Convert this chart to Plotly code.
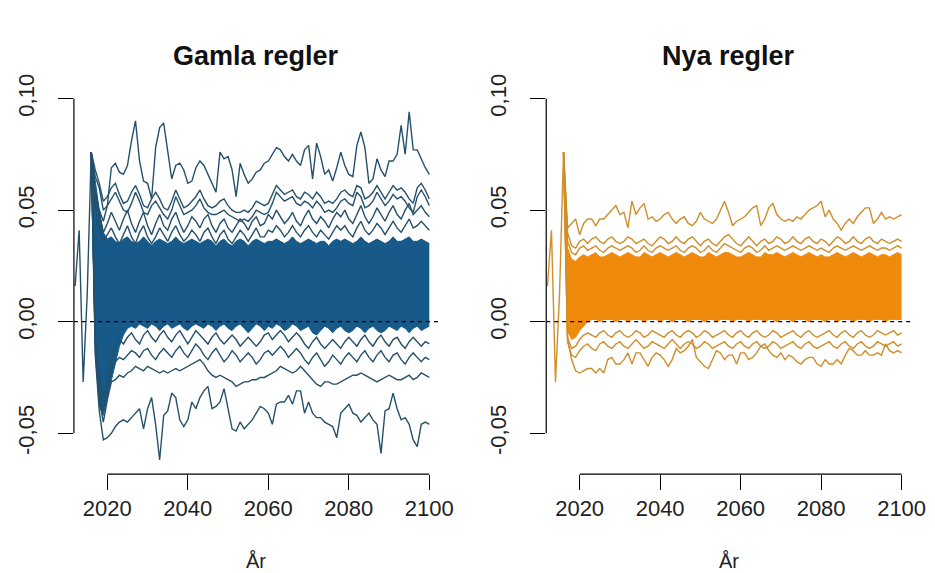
import plotly.graph_objects as go

# ---------------- data ----------------
hist_years = [2012, 2013, 2014, 2015, 2016]
hist_values = [0.016, 0.041, -0.027, 0.012, 0.076]

fan_years = list(range(2016, 2101))

gamla_max = [0.076, 0.055, 0.050, 0.045,
    0.052, 0.069, 0.071, 0.067, 0.066, 0.070, 0.081, 0.090, 0.072, 0.063,
    0.062, 0.055, 0.078, 0.087, 0.089, 0.077, 0.064, 0.070, 0.071, 0.068,
    0.062, 0.063, 0.069, 0.072, 0.070, 0.066, 0.062, 0.058, 0.076, 0.073,
    0.074, 0.068, 0.056, 0.071, 0.066, 0.062, 0.064, 0.067, 0.068, 0.071,
    0.072, 0.075, 0.078, 0.077, 0.074, 0.072, 0.075, 0.072, 0.070, 0.077,
    0.079, 0.064, 0.080, 0.074, 0.066, 0.068, 0.063, 0.069, 0.076, 0.070,
    0.066, 0.065, 0.079, 0.085, 0.078, 0.062, 0.064, 0.073, 0.068, 0.065,
    0.072, 0.072, 0.075, 0.088, 0.075, 0.094, 0.077, 0.077, 0.073, 0.069,
    0.066]
gamla_u0 = [0.076, 0.068, 0.062, 0.054,
    0.056, 0.060, 0.062, 0.057, 0.053, 0.054, 0.058, 0.061, 0.057, 0.052,
    0.051, 0.055, 0.058, 0.055, 0.051, 0.050, 0.054, 0.059, 0.055, 0.051,
    0.052, 0.054, 0.056, 0.059, 0.055, 0.052, 0.051, 0.052, 0.054, 0.055,
    0.052, 0.050, 0.049, 0.049, 0.050, 0.049, 0.051, 0.054, 0.053, 0.052,
    0.053, 0.057, 0.061, 0.059, 0.057, 0.058, 0.059, 0.056, 0.055, 0.058,
    0.057, 0.055, 0.058, 0.056, 0.053, 0.054, 0.053, 0.055, 0.058, 0.059,
    0.057, 0.056, 0.061, 0.060, 0.055, 0.056, 0.058, 0.061, 0.058, 0.055,
    0.058, 0.061, 0.059, 0.060, 0.058, 0.055, 0.053, 0.060, 0.062, 0.059,
    0.055]
gamla_u1 = [0.076, 0.065, 0.060, 0.050,
    0.052, 0.055, 0.058, 0.054, 0.050, 0.049, 0.053, 0.058, 0.054, 0.049,
    0.048, 0.052, 0.054, 0.051, 0.048, 0.046, 0.050, 0.056, 0.052, 0.048,
    0.049, 0.050, 0.052, 0.055, 0.051, 0.049, 0.048, 0.048, 0.049, 0.050,
    0.048, 0.047, 0.046, 0.045, 0.046, 0.045, 0.047, 0.050, 0.049, 0.048,
    0.049, 0.053, 0.058, 0.056, 0.054, 0.055, 0.056, 0.053, 0.052, 0.054,
    0.053, 0.051, 0.054, 0.052, 0.049, 0.050, 0.049, 0.051, 0.054, 0.055,
    0.053, 0.052, 0.058, 0.056, 0.051, 0.052, 0.054, 0.058, 0.055, 0.052,
    0.054, 0.057, 0.055, 0.056, 0.054, 0.051, 0.049, 0.056, 0.059, 0.056,
    0.052]
gamla_u2 = [0.076, 0.058, 0.048, 0.040,
    0.044, 0.049, 0.045, 0.041, 0.046, 0.050, 0.044, 0.040, 0.045, 0.049,
    0.043, 0.039, 0.044, 0.048, 0.043, 0.041, 0.046, 0.049, 0.044, 0.040,
    0.043, 0.047, 0.045, 0.042, 0.046, 0.048, 0.043, 0.040, 0.044, 0.046,
    0.042, 0.040, 0.043, 0.046, 0.044, 0.041, 0.045, 0.047, 0.043, 0.044,
    0.048, 0.046, 0.050, 0.047, 0.044, 0.046, 0.049, 0.045, 0.043, 0.047,
    0.050, 0.046, 0.044, 0.047, 0.045, 0.042, 0.046, 0.049, 0.047, 0.050,
    0.046, 0.044, 0.048, 0.052, 0.047, 0.044, 0.047, 0.051, 0.048, 0.045,
    0.049, 0.052, 0.048, 0.046, 0.050, 0.053, 0.048, 0.050, 0.052, 0.049,
    0.047]
gamla_u3 = [0.076, 0.052, 0.042, 0.036,
    0.039, 0.042, 0.038, 0.035, 0.039, 0.043, 0.038, 0.035, 0.040, 0.043,
    0.038, 0.035, 0.038, 0.042, 0.039, 0.036, 0.040, 0.043, 0.039, 0.036,
    0.038, 0.041, 0.039, 0.036, 0.040, 0.042, 0.038, 0.035, 0.039, 0.041,
    0.037, 0.035, 0.038, 0.041, 0.039, 0.036, 0.039, 0.042, 0.038, 0.038,
    0.041, 0.040, 0.043, 0.041, 0.038, 0.040, 0.043, 0.040, 0.038, 0.041,
    0.043, 0.040, 0.038, 0.041, 0.039, 0.037, 0.040, 0.043, 0.041, 0.043,
    0.040, 0.038, 0.042, 0.045, 0.041, 0.039, 0.041, 0.044, 0.042, 0.039,
    0.042, 0.045, 0.042, 0.040, 0.043, 0.046, 0.042, 0.043, 0.045, 0.043,
    0.041]
gamla_core_hi = [0.076, 0.062, 0.050, 0.040,
    0.037, 0.038, 0.036, 0.035, 0.037, 0.038, 0.036, 0.035, 0.036, 0.038,
    0.036, 0.034, 0.036, 0.037, 0.036, 0.035, 0.036, 0.038, 0.036, 0.035,
    0.036, 0.037, 0.036, 0.035, 0.036, 0.037, 0.036, 0.034, 0.036, 0.037,
    0.035, 0.034, 0.036, 0.037, 0.036, 0.034, 0.036, 0.037, 0.036, 0.035,
    0.036, 0.036, 0.037, 0.036, 0.035, 0.036, 0.038, 0.036, 0.035, 0.036,
    0.037, 0.036, 0.035, 0.036, 0.036, 0.034, 0.036, 0.037, 0.036, 0.037,
    0.036, 0.035, 0.036, 0.038, 0.036, 0.035, 0.036, 0.037, 0.036, 0.035,
    0.036, 0.038, 0.036, 0.036, 0.037, 0.038, 0.036, 0.036, 0.037, 0.036,
    0.035]
gamla_core_lo = [0.076, -0.014, -0.038, -0.042,
    -0.034, -0.026, -0.018, -0.011, -0.006, -0.003, -0.002, -0.003, -0.001, -0.002,
    -0.003, -0.001, -0.002, -0.004, -0.002, -0.001, -0.003, -0.002, -0.001, -0.003,
    -0.004, -0.002, -0.001, -0.002, -0.003, -0.001, -0.002, -0.004, -0.002, -0.001,
    -0.003, -0.004, -0.002, -0.001, -0.003, -0.005, -0.003, -0.001, -0.002, -0.004,
    -0.002, -0.003, -0.001, -0.002, -0.004, -0.003, -0.001, -0.002, -0.004, -0.003,
    -0.002, -0.005, -0.006, -0.004, -0.002, -0.003, -0.005, -0.003, -0.002, -0.004,
    -0.005, -0.004, -0.002, -0.003, -0.005, -0.003, -0.002, -0.004, -0.005, -0.004,
    -0.002, -0.003, -0.004, -0.002, -0.003, -0.005, -0.003, -0.002, -0.004, -0.003,
    -0.002]
gamla_d3 = [0.076, -0.006, -0.025, -0.034,
    -0.026, -0.017, -0.011, -0.008, -0.010, -0.007, -0.005, -0.008, -0.010, -0.006,
    -0.004, -0.007, -0.009, -0.006, -0.004, -0.007, -0.009, -0.006, -0.004, -0.007,
    -0.010, -0.007, -0.004, -0.006, -0.008, -0.010, -0.007, -0.005, -0.008, -0.010,
    -0.008, -0.006, -0.008, -0.011, -0.009, -0.007, -0.009, -0.011, -0.009, -0.006,
    -0.005, -0.008, -0.006, -0.004, -0.006, -0.009, -0.007, -0.005, -0.007, -0.010,
    -0.012, -0.009, -0.007, -0.010, -0.012, -0.010, -0.008, -0.010, -0.012, -0.009,
    -0.007, -0.009, -0.011, -0.008, -0.006, -0.009, -0.011, -0.008, -0.006, -0.009,
    -0.011, -0.008, -0.007, -0.010, -0.012, -0.009, -0.007, -0.009, -0.011, -0.009,
    -0.010]
gamla_d2 = [0.076, -0.008, -0.030, -0.040,
    -0.030, -0.022, -0.018, -0.016, -0.017, -0.015, -0.013, -0.014, -0.016, -0.013,
    -0.012, -0.015, -0.017, -0.014, -0.012, -0.014, -0.016, -0.013, -0.011, -0.014,
    -0.016, -0.013, -0.010, -0.012, -0.015, -0.017, -0.014, -0.012, -0.015, -0.018,
    -0.016, -0.013, -0.015, -0.018, -0.016, -0.014, -0.016, -0.019, -0.017, -0.014,
    -0.013, -0.015, -0.013, -0.011, -0.013, -0.016, -0.014, -0.012, -0.014, -0.017,
    -0.019, -0.016, -0.014, -0.017, -0.020, -0.018, -0.015, -0.017, -0.019, -0.016,
    -0.014, -0.016, -0.018, -0.015, -0.013, -0.016, -0.018, -0.015, -0.013, -0.016,
    -0.018, -0.015, -0.014, -0.017, -0.019, -0.016, -0.014, -0.016, -0.018, -0.016,
    -0.017]
gamla_d1 = [0.076, -0.010, -0.035, -0.045,
    -0.035, -0.027, -0.026, -0.024, -0.025, -0.023, -0.022, -0.020, -0.021, -0.022,
    -0.020, -0.021, -0.022, -0.023, -0.022, -0.023, -0.022, -0.021, -0.022, -0.021,
    -0.020, -0.019, -0.018, -0.017, -0.019, -0.022, -0.024, -0.025, -0.024, -0.025,
    -0.026, -0.027, -0.029, -0.028, -0.027, -0.027, -0.026, -0.026, -0.025, -0.025,
    -0.024, -0.023, -0.022, -0.020, -0.021, -0.022, -0.023, -0.022, -0.020, -0.022,
    -0.024, -0.026, -0.028, -0.029, -0.027, -0.027, -0.028, -0.028, -0.027, -0.026,
    -0.025, -0.024, -0.024, -0.023, -0.024, -0.025, -0.026, -0.027, -0.026, -0.025,
    -0.024, -0.025, -0.026, -0.026, -0.025, -0.024, -0.026, -0.025, -0.023, -0.024,
    -0.025]
gamla_min = [0.076, -0.015, -0.040, -0.053,
    -0.052, -0.050, -0.047, -0.045, -0.044, -0.045, -0.043, -0.041, -0.039, -0.048,
    -0.039, -0.034, -0.046, -0.062, -0.042, -0.040, -0.032, -0.034, -0.044, -0.047,
    -0.044, -0.036, -0.039, -0.034, -0.031, -0.029, -0.039, -0.038, -0.036, -0.030,
    -0.039, -0.048, -0.049, -0.045, -0.048, -0.046, -0.044, -0.041, -0.038, -0.039,
    -0.041, -0.046, -0.037, -0.036, -0.036, -0.033, -0.037, -0.031, -0.031, -0.041,
    -0.036, -0.041, -0.043, -0.043, -0.045, -0.046, -0.047, -0.052, -0.041, -0.039,
    -0.037, -0.041, -0.042, -0.045, -0.043, -0.041, -0.044, -0.046, -0.059, -0.040,
    -0.039, -0.032, -0.039, -0.044, -0.043, -0.046, -0.053, -0.056, -0.046, -0.045,
    -0.046]

nya_max = [0.076, 0.042, 0.044, 0.046,
    0.039, 0.044, 0.046, 0.046, 0.043, 0.046, 0.046, 0.048, 0.050, 0.052,
    0.048, 0.049, 0.042, 0.054, 0.048, 0.051, 0.053, 0.046, 0.047, 0.045,
    0.046, 0.048, 0.049, 0.046, 0.044, 0.046, 0.047, 0.044, 0.043, 0.045,
    0.049, 0.046, 0.045, 0.044, 0.046, 0.050, 0.054, 0.049, 0.043, 0.045,
    0.046, 0.047, 0.049, 0.051, 0.052, 0.043, 0.046, 0.051, 0.053, 0.048,
    0.046, 0.045, 0.046, 0.045, 0.047, 0.046, 0.048, 0.050, 0.051, 0.052,
    0.054, 0.047, 0.050, 0.046, 0.044, 0.041, 0.044, 0.046, 0.044, 0.047,
    0.049, 0.051, 0.051, 0.044, 0.046, 0.049, 0.046, 0.047, 0.046, 0.047,
    0.048]
nya_u1 = [0.076, 0.040, 0.034, 0.033,
    0.036, 0.037, 0.035, 0.037, 0.038, 0.036, 0.035, 0.037, 0.038, 0.036,
    0.035, 0.036, 0.038, 0.037, 0.035, 0.036, 0.037, 0.035, 0.034, 0.036,
    0.038, 0.037, 0.035, 0.036, 0.038, 0.036, 0.035, 0.037, 0.038, 0.036,
    0.034, 0.036, 0.037, 0.035, 0.034, 0.036, 0.038, 0.039, 0.037, 0.035,
    0.034, 0.036, 0.038, 0.036, 0.034, 0.036, 0.037, 0.035, 0.036, 0.038,
    0.037, 0.035, 0.036, 0.038, 0.036, 0.035, 0.037, 0.038, 0.036, 0.035,
    0.037, 0.036, 0.034, 0.036, 0.038, 0.037, 0.035, 0.036, 0.038, 0.036,
    0.035, 0.037, 0.038, 0.036, 0.035, 0.037, 0.036, 0.035, 0.036, 0.037,
    0.036]
nya_u2 = [0.076, 0.036, 0.031, 0.030,
    0.033, 0.034, 0.032, 0.033, 0.034, 0.032, 0.031, 0.033, 0.034, 0.033,
    0.032, 0.033, 0.034, 0.033, 0.031, 0.032, 0.034, 0.032, 0.031, 0.033,
    0.034, 0.033, 0.032, 0.033, 0.034, 0.032, 0.031, 0.033, 0.034, 0.033,
    0.031, 0.032, 0.034, 0.032, 0.031, 0.033, 0.035, 0.034, 0.033, 0.032,
    0.031, 0.033, 0.034, 0.033, 0.031, 0.032, 0.034, 0.032, 0.033, 0.034,
    0.033, 0.032, 0.033, 0.034, 0.033, 0.032, 0.033, 0.034, 0.033, 0.032,
    0.033, 0.032, 0.031, 0.033, 0.034, 0.033, 0.032, 0.033, 0.034, 0.033,
    0.032, 0.033, 0.034, 0.033, 0.032, 0.033, 0.033, 0.032, 0.033, 0.034,
    0.033]
nya_core_hi = [0.076, 0.033, 0.028, 0.027,
    0.029, 0.030, 0.029, 0.030, 0.031, 0.029, 0.029, 0.030, 0.031, 0.030,
    0.029, 0.030, 0.031, 0.030, 0.029, 0.029, 0.031, 0.030, 0.029, 0.030,
    0.031, 0.030, 0.029, 0.030, 0.031, 0.030, 0.029, 0.030, 0.031, 0.030,
    0.029, 0.029, 0.031, 0.030, 0.029, 0.030, 0.031, 0.031, 0.030, 0.029,
    0.029, 0.030, 0.031, 0.030, 0.029, 0.029, 0.031, 0.030, 0.030, 0.031,
    0.030, 0.029, 0.030, 0.031, 0.030, 0.029, 0.030, 0.031, 0.030, 0.029,
    0.030, 0.029, 0.029, 0.030, 0.031, 0.030, 0.029, 0.030, 0.031, 0.030,
    0.029, 0.030, 0.031, 0.030, 0.029, 0.030, 0.030, 0.029, 0.030, 0.031,
    0.030]
nya_core_lo = [0.076, -0.004, -0.008, -0.007,
    -0.004, -0.002, 0.000, 0.001, 0.001, 0.000, 0.001, 0.001, 0.001, 0.000,
    0.001, 0.001, 0.000, 0.001, 0.001, 0.001, 0.000, 0.001, 0.001, 0.001,
    0.000, 0.001, 0.001, 0.000, 0.001, 0.001, 0.001, 0.000, 0.001, 0.001,
    0.001, 0.000, 0.001, 0.001, 0.000, 0.001, 0.001, 0.001, 0.000, 0.001,
    0.001, 0.001, 0.000, 0.001, 0.001, 0.001, 0.000, 0.001, 0.001, 0.000,
    0.001, 0.001, 0.001, 0.000, 0.001, 0.001, 0.001, 0.000, 0.001, 0.001,
    0.001, 0.000, 0.001, 0.001, 0.000, 0.001, 0.001, 0.001, 0.000, 0.001,
    0.001, 0.001, 0.000, 0.001, 0.001, 0.001, 0.000, 0.001, 0.001, 0.001,
    0.001]
nya_d1 = [0.076, -0.007, -0.012, -0.011,
    -0.008, -0.006, -0.005, -0.006, -0.007, -0.005, -0.004, -0.006, -0.007, -0.005,
    -0.004, -0.006, -0.007, -0.006, -0.004, -0.005, -0.007, -0.006, -0.004, -0.005,
    -0.006, -0.007, -0.005, -0.004, -0.006, -0.007, -0.005, -0.004, -0.005, -0.007,
    -0.006, -0.004, -0.005, -0.007, -0.006, -0.005, -0.004, -0.006, -0.007, -0.005,
    -0.004, -0.006, -0.007, -0.005, -0.004, -0.006, -0.007, -0.006, -0.004, -0.005,
    -0.007, -0.006, -0.005, -0.004, -0.006, -0.007, -0.005, -0.004, -0.006, -0.007,
    -0.006, -0.005, -0.004, -0.006, -0.007, -0.005, -0.004, -0.006, -0.007, -0.005,
    -0.004, -0.006, -0.007, -0.006, -0.004, -0.005, -0.006, -0.005, -0.004, -0.006,
    -0.005]
nya_d2 = [0.076, -0.009, -0.015, -0.016,
    -0.013, -0.011, -0.010, -0.012, -0.013, -0.010, -0.009, -0.011, -0.012, -0.010,
    -0.009, -0.011, -0.012, -0.010, -0.008, -0.010, -0.012, -0.011, -0.009, -0.010,
    -0.011, -0.012, -0.010, -0.008, -0.010, -0.012, -0.010, -0.009, -0.010, -0.012,
    -0.011, -0.009, -0.010, -0.012, -0.011, -0.010, -0.009, -0.011, -0.012, -0.010,
    -0.009, -0.011, -0.012, -0.010, -0.009, -0.011, -0.012, -0.011, -0.009, -0.010,
    -0.012, -0.011, -0.010, -0.009, -0.011, -0.012, -0.010, -0.009, -0.011, -0.012,
    -0.011, -0.010, -0.009, -0.011, -0.012, -0.010, -0.009, -0.011, -0.012, -0.010,
    -0.009, -0.011, -0.012, -0.011, -0.009, -0.010, -0.011, -0.010, -0.009, -0.011,
    -0.010]
nya_min = [0.076, -0.008, -0.017, -0.022,
    -0.023, -0.022, -0.021, -0.021, -0.023, -0.021, -0.023, -0.017, -0.016, -0.019,
    -0.019, -0.017, -0.014, -0.019, -0.014, -0.014, -0.017, -0.020, -0.016, -0.014,
    -0.015, -0.017, -0.020, -0.017, -0.012, -0.014, -0.013, -0.011, -0.008, -0.016,
    -0.018, -0.020, -0.021, -0.017, -0.013, -0.014, -0.017, -0.015, -0.015, -0.019,
    -0.014, -0.014, -0.017, -0.016, -0.014, -0.011, -0.010, -0.013, -0.015, -0.016,
    -0.014, -0.017, -0.015, -0.016, -0.018, -0.019, -0.017, -0.016, -0.016, -0.019,
    -0.020, -0.017, -0.019, -0.019, -0.017, -0.019, -0.015, -0.012, -0.013, -0.015,
    -0.015, -0.013, -0.015, -0.015, -0.014, -0.015, -0.010, -0.013, -0.014, -0.013,
    -0.014]

panel_titles = ["Gamla regler", "Nya regler"]
x_label = "År"
x_tick_vals = [2020, 2040, 2060, 2080, 2100]
x_tick_text = ["2020", "2040", "2060", "2080", "2100"]
y_tick_vals = [-0.05, 0.0, 0.05, 0.10]
y_tick_text = ["-0,05", "0,00", "0,05", "0,10"]

# ---------------- styling ----------------
BLUE_FILL = "#175a89"
BLUE_LINE = "#24506b"
ORANGE_FILL = "#ef8a0c"
ORANGE_LINE = "#cf8e2a"
FONT = "Liberation Sans, Arial, sans-serif"

W, H = 935, 573
X_RANGE = [2011.7, 2102.4]
Y_RANGE = [-0.0683, 0.1018]
x_domains = [[67 / W, 438 / W], [547 / W, 918 / W]]
y_domain = [(H - 462) / H, (H - 68) / H]

panels = [
    dict(lines=[gamla_u3, gamla_u2, gamla_u1, gamla_u0, gamla_max,
                gamla_d3, gamla_d2, gamla_d1, gamla_min],
         lo=gamla_core_lo, hi=gamla_core_hi, fill=BLUE_FILL, line=BLUE_LINE),
    dict(lines=[nya_u2, nya_u1, nya_max, nya_d2, nya_d1, nya_min],
         lo=nya_core_lo, hi=nya_core_hi, fill=ORANGE_FILL, line=ORANGE_LINE),
]

fig = go.Figure()
shapes = []
annotations = []
for i, p in enumerate(panels):
    xa = "x" if i == 0 else "x2"
    ya = "y" if i == 0 else "y2"
    # historical path
    fig.add_trace(go.Scatter(x=hist_years, y=hist_values, mode="lines", xaxis=xa, yaxis=ya,
                             line=dict(color=p["line"], width=1.4), hoverinfo="skip"))
    # dense core of simulated paths
    fig.add_trace(go.Scatter(x=fan_years, y=p["lo"], mode="lines", xaxis=xa, yaxis=ya,
                             line=dict(color=p["fill"], width=1), hoverinfo="skip"))
    fig.add_trace(go.Scatter(x=fan_years, y=p["hi"], mode="lines", xaxis=xa, yaxis=ya,
                             fill="tonexty", fillcolor=p["fill"],
                             line=dict(color=p["fill"], width=1), hoverinfo="skip"))
    for series in p["lines"]:
        fig.add_trace(go.Scatter(x=fan_years, y=series, mode="lines", xaxis=xa, yaxis=ya,
                                 line=dict(color=p["line"], width=1.4), hoverinfo="skip"))

    xref_dom = xa + " domain"
    yref_dom = ya + " domain"
    # R-style axis lines spanning the tick range only
    shapes.append(dict(type="line", xref=xref_dom, yref=ya, x0=0, x1=0,
                       y0=min(y_tick_vals), y1=max(y_tick_vals),
                       line=dict(color="black", width=1.2)))
    shapes.append(dict(type="line", xref=xa, yref=yref_dom, x0=min(x_tick_vals), x1=max(x_tick_vals),
                       y0=0, y1=0, line=dict(color="black", width=1.2)))
    # dashed zero line
    shapes.append(dict(type="line", xref=xref_dom, yref=ya, x0=0, x1=1, y0=0, y1=0,
                       line=dict(color="black", width=1.2, dash="4px,4px")))
    cx = (x_domains[i][0] + x_domains[i][1]) / 2
    annotations.append(dict(text="<b>" + panel_titles[i] + "</b>", xref="paper", yref="paper",
                            x=cx, y=1 - 28 / H, xanchor="center", yanchor="middle",
                            showarrow=False, font=dict(family=FONT, size=27, color="#111")))
    annotations.append(dict(text=x_label, xref="paper", yref="paper",
                            x=cx, y=1 - 552 / H, xanchor="center", yanchor="middle",
                            showarrow=False, font=dict(family=FONT, size=20, color="#222")))

axis_common = dict(showgrid=False, zeroline=False, showline=False, ticks="outside",
                   ticklen=15, tickwidth=1.2, tickcolor="black",
                   tickfont=dict(family=FONT, size=22, color="#222"))

fig.update_layout(
    width=W, height=H, margin=dict(l=0, r=0, t=0, b=0),
    paper_bgcolor="white", plot_bgcolor="white", showlegend=False,
    xaxis=dict(domain=x_domains[0], range=X_RANGE, anchor="y", tickvals=x_tick_vals,
               ticktext=x_tick_text, ticklabelstandoff=0, **axis_common),
    yaxis=dict(domain=y_domain, range=Y_RANGE, anchor="x", tickvals=y_tick_vals,
               ticktext=y_tick_text, tickangle=-90, ticklabelstandoff=15, **axis_common),
    xaxis2=dict(domain=x_domains[1], range=X_RANGE, anchor="y2", tickvals=x_tick_vals,
                ticktext=x_tick_text, ticklabelstandoff=0, **axis_common),
    yaxis2=dict(domain=y_domain, range=Y_RANGE, anchor="x2", tickvals=y_tick_vals,
                ticktext=y_tick_text, tickangle=-90, ticklabelstandoff=15, **axis_common),
    shapes=shapes, annotations=annotations,
)

fig.write_html("out.html")
